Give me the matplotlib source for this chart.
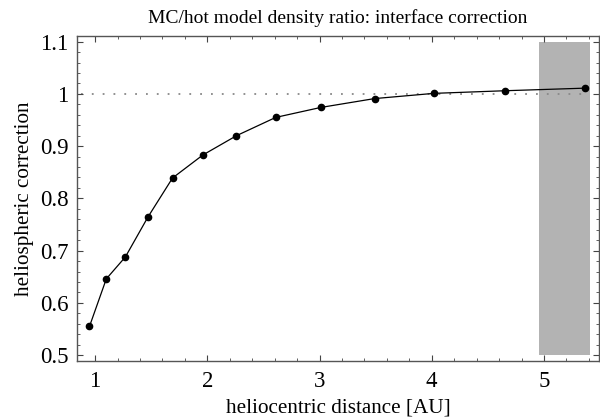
import matplotlib
matplotlib.use('Agg')
import matplotlib.pyplot as plt
from matplotlib.patches import Rectangle
from matplotlib.ticker import MultipleLocator

# heliocentric distance [AU] and density ratio
dist = [0.95, 1.10, 1.27, 1.47, 1.69, 1.96, 2.26, 2.61, 3.01, 3.49, 4.02, 4.65, 5.37]
corr = [0.555, 0.646, 0.688, 0.764, 0.839, 0.883, 0.920, 0.955, 0.974, 0.991, 1.001, 1.006, 1.011]
xticks = [1, 2, 3, 4, 5]
yticks = [0.5, 0.6, 0.7, 0.8, 0.9, 1.0, 1.1]
ytick_labels = ['0.5', '0.6', '0.7', '0.8', '0.9', '1', '1.1']
band = (4.955, 5.41)  # shaded distance range

plt.rcParams['font.family'] = ['Liberation Serif', 'DejaVu Serif']

fig = plt.figure(figsize=(6.0, 4.19), dpi=100)
ax = fig.add_axes([0.128, 0.138, 0.871, 0.777])

ax.add_patch(Rectangle((band[0], 0.5), band[1] - band[0], 0.6,
                       facecolor='#b3b3b3', edgecolor='none', zorder=0))
ax.plot([0.87, 5.4], [1, 1], color='#888888', linestyle=(0, (1, 5)), lw=1.3, zorder=1)
ax.plot(dist, corr, color='black', lw=0.9, marker='o', ms=4.5, zorder=3)

ax.set_xlim(0.837, 5.494)
ax.set_ylim(0.4885, 1.1115)
ax.set_xticks(xticks)
ax.set_yticks(yticks)
ax.set_yticklabels(ytick_labels)
ax.xaxis.set_minor_locator(MultipleLocator(0.2))
ax.yaxis.set_minor_locator(MultipleLocator(0.02))
ax.tick_params(which='both', direction='in', top=True, right=True,
               color='#444444', labelsize=16.5)
ax.tick_params(axis='x', pad=7)
ax.tick_params(axis='y', pad=6)
ax.tick_params(which='major', length=4, width=0.8)
ax.tick_params(which='minor', length=2, width=0.6)
for s in ax.spines.values():
    s.set_color('#555555')
    s.set_linewidth(1.0)

ax.set_xlabel('heliocentric distance [AU]', fontsize=15.2, labelpad=5)
ax.set_ylabel('heliospheric correction', fontsize=15.2, labelpad=4)
ax.set_title('MC/hot model density ratio: interface correction', fontsize=14, pad=9)

fig.savefig('out.png', dpi=100)
